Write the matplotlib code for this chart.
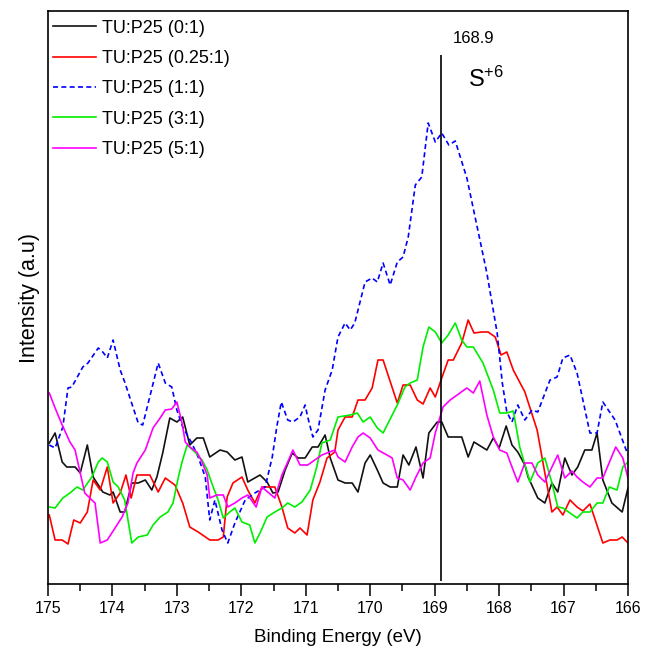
import matplotlib
matplotlib.use("Agg")
import matplotlib.pyplot as plt

plt.rcParams['font.family'] = ['Liberation Sans', 'DejaVu Sans']
plt.rcParams['mathtext.default'] = 'regular'

# S 2p region, binding energy (eV) vs intensity (a.u.) for each TU:P25 ratio
be_0_1 = [174.98, 174.89, 174.78, 174.71, 174.58, 174.50, 174.39, 174.30, 174.15, 174.04,
          173.99, 173.88, 173.81, 173.70, 173.60, 173.49, 173.39, 173.31, 173.22, 173.11,
          173.00, 172.91, 172.80, 172.69, 172.59, 172.49, 172.33, 172.22, 172.10, 171.99,
          171.90, 171.71, 171.60, 171.51, 171.43, 171.32, 171.21, 171.12, 171.01, 170.90,
          170.81, 170.70, 170.62, 170.50, 170.39, 170.28, 170.19, 170.08, 170.00, 169.89,
          169.80, 169.69, 169.58, 169.49, 169.40, 169.29, 169.18, 169.09, 168.96, 168.89,
          168.79, 168.58, 168.48, 168.39, 168.19, 168.09, 168.00, 167.89, 167.80, 167.71,
          167.60, 167.55, 167.40, 167.29, 167.18, 167.09, 166.98, 166.87, 166.78, 166.67,
          166.56, 166.48, 166.39, 166.25, 166.09, 166.00]
int_0_1 = [141, 151, 122, 117, 117, 111, 139, 107, 92, 89,
           92, 72, 72, 101, 101, 104, 94, 107, 131, 166,
           162, 167, 139, 146, 146, 127, 134, 132, 124, 127,
           102, 109, 102, 91, 92, 114, 131, 126, 126, 137,
           137, 149, 126, 104, 101, 101, 92, 121, 129, 114,
           101, 97, 97, 129, 119, 137, 106, 151, 162, 162,
           147, 147, 127, 142, 134, 146, 136, 158, 139, 132,
           119, 107, 86, 81, 101, 92, 126, 109, 117, 134,
           134, 151, 104, 81, 72, 96]

be_025_1 = [174.98, 174.89, 174.78, 174.69, 174.60, 174.50, 174.39, 174.30, 174.19, 174.08,
            173.99, 173.88, 173.79, 173.71, 173.62, 173.42, 173.29, 173.18, 173.03, 172.91,
            172.80, 172.67, 172.49, 172.36, 172.28, 172.22, 172.13, 171.99, 171.90, 171.79,
            171.68, 171.48, 171.37, 171.28, 171.17, 171.09, 170.98, 170.89, 170.78, 170.67,
            170.55, 170.50, 170.39, 170.28, 170.19, 170.08, 169.97, 169.88, 169.80, 169.58,
            169.49, 169.38, 169.27, 169.18, 169.07, 168.99, 168.89, 168.79, 168.71, 168.58,
            168.48, 168.39, 168.27, 168.17, 168.06, 167.97, 167.88, 167.78, 167.60, 167.41,
            167.29, 167.18, 167.10, 167.01, 166.90, 166.79, 166.70, 166.59, 166.39, 166.28,
            166.17, 166.09, 166.00]
int_025_1 = [69, 44, 44, 40, 64, 61, 72, 104, 94, 117,
             81, 91, 109, 86, 109, 109, 92, 106, 99, 81,
             57, 52, 44, 44, 47, 87, 101, 107, 94, 81,
             97, 97, 77, 56, 51, 56, 49, 84, 102, 126,
             132, 154, 167, 167, 184, 184, 196, 224, 224, 181,
             199, 199, 184, 180, 196, 187, 206, 224, 224, 241,
             264, 251, 252, 252, 247, 229, 232, 214, 192, 154,
             111, 72, 77, 69, 84, 77, 73, 80, 41, 44,
             44, 47, 41]

be_1_1 = [174.98, 174.89, 174.77, 174.69, 174.63, 174.46, 174.38, 174.22, 174.15, 174.08,
          173.99, 173.88, 173.81, 173.60, 173.53, 173.29, 173.18, 173.08, 173.00, 172.91,
          172.77, 172.67, 172.56, 172.49, 172.41, 172.30, 172.21, 172.10, 171.94, 171.79,
          171.63, 171.52, 171.45, 171.38, 171.28, 171.20, 171.09, 171.01, 170.97, 170.89,
          170.81, 170.70, 170.59, 170.50, 170.39, 170.31, 170.24, 170.08, 169.97, 169.89,
          169.80, 169.69, 169.58, 169.49, 169.41, 169.30, 169.20, 169.10, 168.99, 168.89,
          168.78, 168.68, 168.50, 168.34, 168.19, 168.03, 167.95, 167.88, 167.80, 167.71,
          167.60, 167.49, 167.40, 167.21, 167.10, 167.01, 166.90, 166.79, 166.59, 166.48,
          166.39, 166.20, 166.00]
int_1_1 = [139, 136, 157, 196, 197, 217, 221, 236, 232, 226,
           244, 214, 202, 161, 159, 221, 201, 197, 174, 157,
           141, 127, 107, 64, 84, 54, 41, 61, 84, 91,
           97, 127, 157, 182, 164, 162, 167, 179, 167, 147,
           154, 194, 214, 247, 261, 254, 261, 302, 306, 302,
           321, 299, 322, 327, 347, 399, 407, 461, 442, 451,
           439, 443, 406, 357, 311, 251, 201, 172, 162, 179,
           164, 174, 172, 204, 207, 226, 229, 211, 151, 151,
           182, 164, 129]

be_3_1 = [174.98, 174.89, 174.77, 174.66, 174.55, 174.46, 174.32, 174.22, 174.16, 174.08,
          173.99, 173.91, 173.81, 173.70, 173.60, 173.46, 173.37, 173.26, 173.14, 173.06,
          172.98, 172.92, 172.84, 172.72, 172.61, 172.53, 172.46, 172.36, 172.28, 172.18,
          172.10, 171.99, 171.87, 171.79, 171.71, 171.60, 171.48, 171.37, 171.28, 171.17,
          171.06, 170.93, 170.83, 170.75, 170.62, 170.50, 170.31, 170.20, 170.11, 170.00,
          169.89, 169.80, 169.58, 169.46, 169.38, 169.27, 169.18, 169.09, 168.99, 168.89,
          168.79, 168.68, 168.58, 168.50, 168.40, 168.25, 168.09, 167.99, 167.88, 167.78,
          167.68, 167.52, 167.40, 167.29, 167.18, 167.09, 167.01, 166.90, 166.79, 166.70,
          166.59, 166.48, 166.39, 166.29, 166.17, 166.08, 166.00]
int_3_1 = [77, 76, 86, 91, 97, 94, 107, 122, 126, 122,
           102, 97, 84, 41, 47, 49, 59, 67, 72, 81,
           106, 122, 139, 132, 124, 114, 101, 84, 66, 72,
           76, 62, 59, 41, 51, 67, 72, 76, 81, 77,
           82, 94, 117, 141, 144, 167, 169, 171, 162, 167,
           156, 151, 179, 197, 201, 204, 237, 257, 252, 241,
           249, 261, 244, 237, 237, 221, 194, 171, 171, 173,
           137, 102, 121, 126, 101, 77, 76, 71, 66, 72,
           72, 81, 81, 97, 94, 117, 122]

be_5_1 = [174.98, 174.89, 174.78, 174.66, 174.58, 174.50, 174.43, 174.32, 174.27, 174.19,
          174.08, 174.01, 173.85, 173.76, 173.68, 173.62, 173.49, 173.37, 173.26, 173.18,
          173.08, 173.00, 172.92, 172.87, 172.80, 172.69, 172.61, 172.53, 172.49, 172.38,
          172.28, 172.21, 172.10, 171.99, 171.90, 171.77, 171.68, 171.59, 171.48, 171.37,
          171.28, 171.20, 171.09, 170.97, 170.75, 170.55, 170.50, 170.39, 170.28, 170.19,
          170.11, 170.00, 169.88, 169.74, 169.66, 169.58, 169.49, 169.38, 169.29, 169.18,
          169.07, 168.99, 168.87, 168.76, 168.50, 168.40, 168.30, 168.19, 168.09, 167.99,
          167.88, 167.80, 167.71, 167.60, 167.49, 167.40, 167.29, 167.18, 167.09, 166.98,
          166.87, 166.79, 166.70, 166.59, 166.48, 166.39, 166.19, 166.08, 166.00]
int_5_1 = [191, 176, 159, 142, 134, 111, 91, 84, 81, 41,
           44, 51, 67, 81, 111, 121, 134, 156, 166, 174,
           175, 182, 161, 142, 137, 132, 122, 109, 86, 89,
           89, 77, 81, 86, 89, 77, 97, 92, 86, 109,
           122, 134, 119, 119, 129, 134, 127, 122, 137, 147,
           151, 146, 134, 129, 126, 106, 104, 94, 107, 121,
           126, 151, 177, 184, 196, 191, 203, 169, 147, 134,
           131, 117, 102, 121, 121, 109, 102, 117, 129, 106,
           113, 107, 102, 97, 106, 106, 137, 126, 106]

labels = ['TU:P25 (0:1)', 'TU:P25 (0.25:1)', 'TU:P25 (1:1)', 'TU:P25 (3:1)', 'TU:P25 (5:1)']
colors = ['#111111', '#ff0000', '#0000ff', '#00ee00', '#ff00ff']

peak_be = 168.9
peak_top = 529

fig = plt.figure(figsize=(6.47, 6.55), dpi=100)
ax = fig.add_axes([0.0742, 0.1084, 0.8964, 0.8748])

series = [(be_0_1, int_0_1), (be_025_1, int_025_1), (be_1_1, int_1_1),
          (be_3_1, int_3_1), (be_5_1, int_5_1)]
for (be, inten), lab, col in zip(series, labels, colors):
    if lab.endswith('(1:1)'):
        ax.plot(be, inten, color=col, lw=1.2, ls='--', dashes=(3, 2), label=lab)
    else:
        ax.plot(be, inten, color=col, lw=1.2, label=lab)

# marker line for the S6+ component
ax.vlines(peak_be, 3, peak_top, color='black', lw=1.2)
ax.text(peak_be - 0.18, 546, '%.1f' % peak_be, fontsize=12, ha='left', va='center')
ax.text(peak_be - 0.42, 505, r'$S^{+6}$', fontsize=17, ha='left', va='center')

ax.set_xlim(175, 166)
ax.set_ylim(0, 573)
ax.set_xticks(range(175, 165, -1))
ax.set_xticks([174.5 - i for i in range(9)], minor=True)
ax.set_yticks([])
ax.tick_params(axis='x', which='major', direction='out', length=8.5, width=1.1,
               labelsize=11.5, pad=4)
ax.tick_params(axis='x', which='minor', direction='out', length=5, width=1.1)
for sp in ax.spines.values():
    sp.set_linewidth(1.2)

ax.set_xlabel('Binding Energy (eV)', fontsize=13.5, labelpad=9)
ax.set_ylabel('Intensity (a.u)', fontsize=15.5, labelpad=6)

ax.legend(loc='upper left', bbox_to_anchor=(0.0, 0.993), frameon=False,
          fontsize=13, handlelength=2.4, handletextpad=0.35, labelspacing=0.74,
          borderaxespad=0.05, borderpad=0.2)

fig.savefig('out.png', dpi=100)
